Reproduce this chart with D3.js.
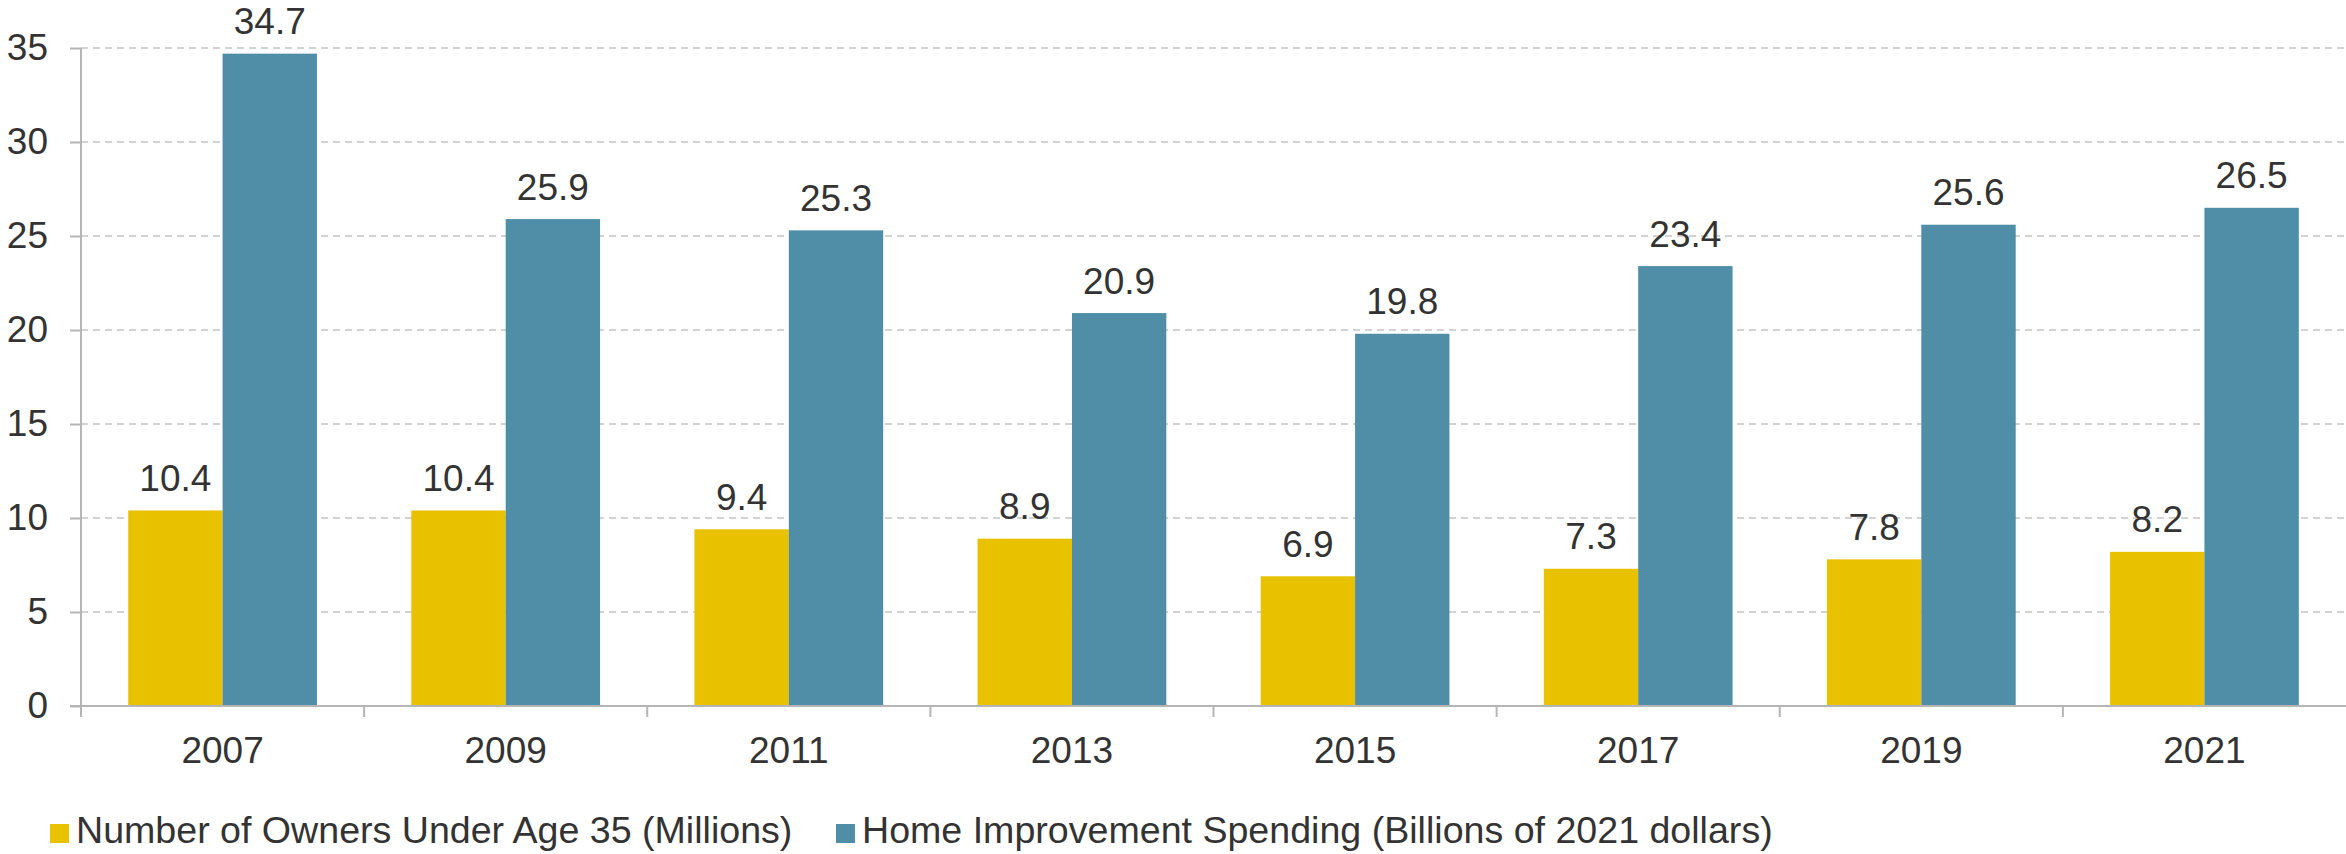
<!DOCTYPE html>
<html>
<head>
<meta charset="utf-8">
<script src="https://cdn.jsdelivr.net/npm/d3@7"></script>
<style>
    body { margin: 0; background: #fff; }
    svg text { font-family: "Liberation Sans", Arial, sans-serif; fill: #333; }
</style>
</head>
<body>
<div id="chart"></div>
<script>
const _WIDTH = 2346
const _HEIGHT = 854
const _MARGIN = { top: 48, left: 81, bottom: 148, right: 0 }
const _FONT = 37

const years = ["2007", "2009", "2011", "2013", "2015", "2017", "2019", "2021"]
const owners = [10.4, 10.4, 9.4, 8.9, 6.9, 7.3, 7.8, 8.2]
const spending = [34.7, 25.9, 25.3, 20.9, 19.8, 23.4, 25.6, 26.5]
const seriesNames = ["Number of Owners Under Age 35 (Millions)", "Home Improvement Spending (Billions of 2021 dollars)"]
const seriesColors = ["#E8C100", "#508DA7"]
const yTicks = [0, 5, 10, 15, 20, 25, 30, 35]

const rows = years.map((y, i) => ({ year: y, values: [owners[i], spending[i]] }))

const svg = d3
    .select("#chart")
    .append("svg")
    .attr("width", _WIDTH)
    .attr("height", _HEIGHT)

const xScale = d3.scaleBand()
    .domain(years)
    .range([_MARGIN.left, _WIDTH - _MARGIN.right])
const x1 = d3.scaleBand()
    .domain([0, 1])
    .range([0, xScale.bandwidth()])
    .paddingOuter(0.5)
const yScale = d3.scaleLinear()
    .domain([0, 35])
    .range([_HEIGHT - _MARGIN.bottom, _MARGIN.top])

// Gridlines
// ===================================
svg.append("g")
    .selectAll("line")
    .data(yTicks.filter(d => d > 0))
    .join("line")
    .attr("x1", _MARGIN.left)
    .attr("x2", _WIDTH - _MARGIN.right)
    .attr("y1", d => yScale(d))
    .attr("y2", d => yScale(d))
    .attr("stroke", "#c4c4c4")
    .attr("stroke-width", 1.5)
    .attr("stroke-dasharray", "7,5")

// Bars
// ===================================
const groups = svg.append("g")
    .selectAll("g")
    .data(rows)
    .join("g")
    .attr("transform", d => `translate(${xScale(d.year)},0)`)

groups.selectAll("rect")
    .data(d => d.values)
    .join("rect")
    .attr("x", (d, i) => x1(i))
    .attr("width", x1.bandwidth())
    .attr("y", d => yScale(d))
    .attr("height", d => yScale(0) - yScale(d))
    .attr("fill", (d, i) => seriesColors[i])

groups.selectAll("text")
    .data(d => d.values)
    .join("text")
    .attr("x", (d, i) => x1(i) + x1.bandwidth() / 2)
    .attr("y", d => yScale(d) - 19.5)
    .attr("text-anchor", "middle")
    .attr("font-size", _FONT)
    .text(d => d.toFixed(1))

// Axes
// ===================================
const yAxis = svg.append("g")
    .attr("transform", `translate(${_MARGIN.left},0)`)
    .call(d3.axisLeft(yScale).tickValues(yTicks).tickSize(11).tickPadding(22))
yAxis.select(".domain").remove()
yAxis.selectAll("line").attr("stroke", "#b5b5b5").attr("stroke-width", 2)
yAxis.selectAll("text").attr("font-size", _FONT).attr("fill", "#333")

svg.append("line")
    .attr("x1", _MARGIN.left)
    .attr("x2", _MARGIN.left)
    .attr("y1", yScale(35))
    .attr("y2", yScale(0) + 11)
    .attr("stroke", "#b5b5b5")
    .attr("stroke-width", 2)

const xAxis = svg.append("g")
    .attr("transform", `translate(0,${yScale(0)})`)
    .call(d3.axisBottom(xScale).tickSize(0).tickPadding(31))
xAxis.select(".domain").remove()
xAxis.selectAll("text").attr("font-size", _FONT).attr("fill", "#333")

svg.append("line")
    .attr("x1", _MARGIN.left - 11)
    .attr("x2", _WIDTH - _MARGIN.right)
    .attr("y1", yScale(0))
    .attr("y2", yScale(0))
    .attr("stroke", "#b5b5b5")
    .attr("stroke-width", 2)

svg.append("g")
    .selectAll("line")
    .data(years.slice(1))
    .join("line")
    .attr("x1", d => xScale(d))
    .attr("x2", d => xScale(d))
    .attr("y1", yScale(0))
    .attr("y2", yScale(0) + 11)
    .attr("stroke", "#b5b5b5")
    .attr("stroke-width", 2)

// Legend
// ===================================
const legendX = [50, 836]
const legend = svg.append("g")
    .selectAll("g")
    .data(seriesNames)
    .join("g")
    .attr("transform", (d, i) => `translate(${legendX[i]},824)`)
legend.append("rect")
    .attr("width", 19)
    .attr("height", 19)
    .attr("fill", (d, i) => seriesColors[i])
legend.append("text")
    .attr("x", 26)
    .attr("y", 19)
    .attr("font-size", 37.6)
    .text(d => d)
</script>
</body>
</html>
